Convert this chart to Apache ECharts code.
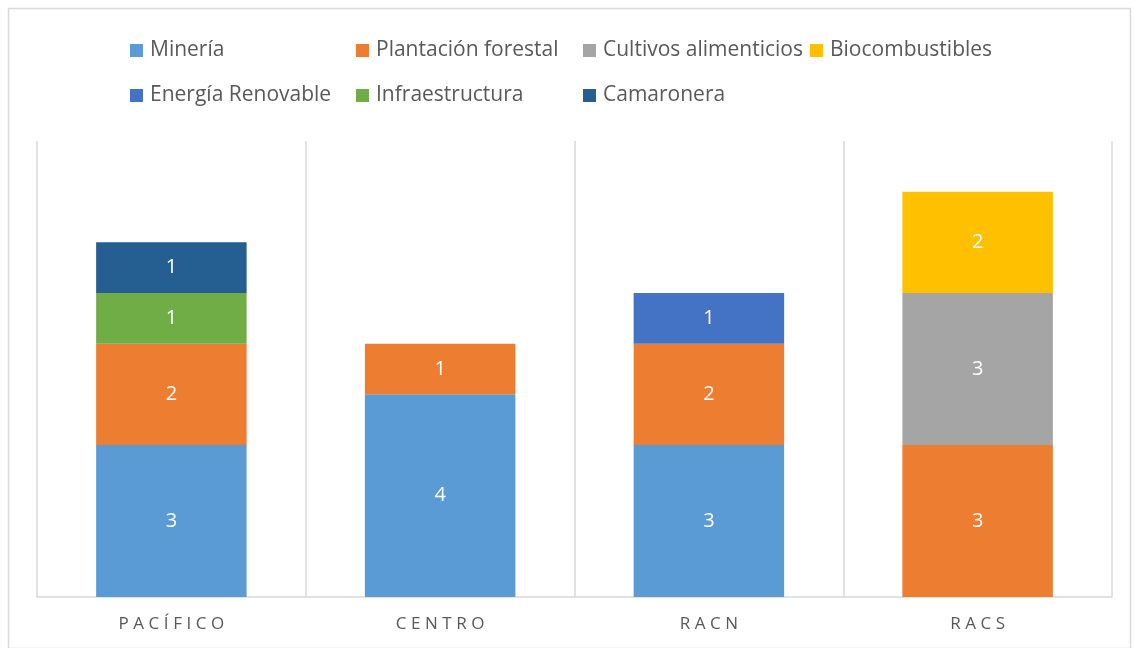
<!DOCTYPE html>
<html>
<head>
<meta charset="utf-8">
<script src="https://cdn.jsdelivr.net/npm/echarts@6/dist/echarts.min.js"></script>
<style>
  html, body { margin: 0; padding: 0; background: #fff; }
  #chart { width: 1134px; height: 648px; }
</style>
</head>
<body>
<div id="chart"></div>
<script>
var regions = ['PACÍFICO', 'CENTRO', 'RACN', 'RACS'];

// null = no bar segment in that region
var mineria       = [3, 4, 3, null];
var plantacion    = [2, 1, 2, 3];
var cultivos      = [null, null, null, 3];
var biocomb       = [null, null, null, 2];
var energia       = [null, null, 1, null];
var infra         = [1, null, null, null];
var camaronera    = [1, null, null, null];

var seriesNames = ['Minería', 'Plantación forestal', 'Cultivos alimenticios', 'Biocombustibles',
                   'Energía Renovable', 'Infraestructura', 'Camaronera'];
var seriesData = [mineria, plantacion, cultivos, biocomb, energia, infra, camaronera];
var colors = ['#5B9BD5', '#ED7D31', '#A5A5A5', '#FFC000', '#4472C4', '#70AD47', '#255E91'];

var chart = echarts.init(document.getElementById('chart'));

var fontFam = '"Open Sans", "Noto Sans", sans-serif';

// Excel-like legend: fixed columns, two rows
var legendPos = [
  [130, 40], [356, 40], [583, 40], [810, 40],
  [130, 85], [356, 85], [583, 85]
];
var legends = seriesNames.map(function (name, i) {
  return {
    data: [name],
    left: legendPos[i][0],
    top: legendPos[i][1],
    padding: 0,
    icon: 'rect',
    itemWidth: 13,
    itemHeight: 13,
    selectedMode: false,
    textStyle: { color: '#595959', fontSize: 21, fontFamily: fontFam, padding: [0, 0, 0, 2] }
  };
});

var series = seriesNames.map(function (name, i) {
  return {
    name: name,
    type: 'bar',
    stack: 'total',
    barWidth: '56%',
    itemStyle: { color: colors[i] },
    label: {
      show: true,
      position: 'inside',
      color: '#fff',
      fontSize: 20,
      fontFamily: fontFam
    },
    emphasis: { disabled: true },
    data: seriesData[i]
  };
});

var option = {
  animation: false,
  color: colors,
  legend: legends,
  grid: { left: 37, right: 22, top: 141, bottom: 51, containLabel: false },
  xAxis: {
    type: 'category',
    data: regions,
    axisLine: { lineStyle: { color: '#d9d9d9', width: 1.5 } },
    axisTick: { show: false },
    splitLine: { show: true, lineStyle: { color: '#d9d9d9', width: 1.5 } },
    axisLabel: {
      color: '#595959',
      fontSize: 17,
      fontFamily: fontFam,
      margin: 19,
      // spread letters like the original's character spacing
      formatter: function (v) { return v.split('').join('\u2009\u200A'); }
    }
  },
  yAxis: {
    type: 'value',
    min: 0,
    max: 9,
    show: true,
    axisLine: { show: false },
    axisTick: { show: false },
    axisLabel: { show: false },
    splitLine: { show: false }
  },
  graphic: [{
    type: 'rect',
    shape: { x: 8.5, y: 8.5, width: 1122, height: 640 },
    style: { fill: null, stroke: '#d9d9d9', lineWidth: 1.5 },
    silent: true
  }],
  series: series
};

chart.setOption(option);
</script>
</body>
</html>
